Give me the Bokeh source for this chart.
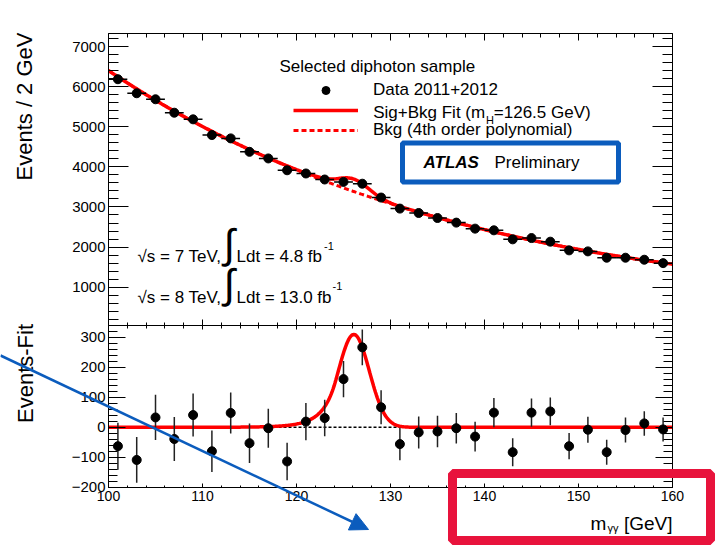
import numpy as np
from bokeh.plotting import figure
from bokeh.layouts import column
from bokeh.models import (Range1d, LinearAxis, SingleIntervalTicker, Label, Legend,
                          LegendItem, BoxAnnotation, Arrow, NormalHead, ColumnDataSource,
                          CustomJSTickFormatter)
from bokeh.embed import file_html
from bokeh.resources import INLINE

# diphoton invariant mass, 2 GeV bins (bin centres)
mass = [101, 103, 105, 107, 109, 111, 113, 115, 117, 119,
        121, 123, 125, 127, 129, 131, 133, 135, 137, 139,
        141, 143, 145, 147, 149, 151, 153, 155, 157, 159]
# selected events per bin, Data 2011+2012
events = [6185, 5835, 5685, 5350, 5185, 4793, 4710, 4375, 4210, 3915,
          3835, 3685, 3625, 3580, 3235, 2960, 2850, 2725, 2610, 2460,
          2418, 2193, 2225, 2135, 1918, 1893, 1735, 1735, 1685, 1600]
# events minus background fit
residual = [-63, -109, 33, -39, 41, -80, 48, -53, -3, -114,
            19, 31, 161, 267, 67, -56, -17, -14, -3, -31,
            49, -83, 49, 53, -63, -8, -83, -9, 13, -7]

# signal model (Crystal Ball) parameters
m_H = 126.5
peak_offset = -0.4
signal_peak = 310.0
signal_width = 1.65
cb_alpha = 1.2
cb_n = 10.0

mass_a = np.array(mass, float)
events_a = np.array(events, float)
resid_a = np.array(residual, float)
stat_err = np.sqrt(events_a)


def scaled(m):
    return (m - 130.0) / 30.0


# 4th order polynomial background through the background-only estimate
bkg_coef = np.polyfit(scaled(mass_a), events_a - resid_a, 4)


def background(m):
    return np.polyval(bkg_coef, scaled(m))


def signal(m):
    t = (m - (m_H + peak_offset)) / signal_width
    a = cb_alpha
    amp = (cb_n / a) ** cb_n * np.exp(-a * a / 2)
    b = cb_n / a - a
    shape = np.exp(-t * t / 2)
    low = t <= -a
    shape[low] = amp * (b - t[low]) ** (-cb_n)
    shape[shape < 1e-9] = 0.0
    return signal_peak * shape


m_fine = np.linspace(100, 160, 601)

data_src = ColumnDataSource(dict(
    m=mass_a, n=events_a, lo=events_a - stat_err, hi=events_a + stat_err,
    ml=mass_a - 1, mr=mass_a + 1,
    r=resid_a, rlo=resid_a - stat_err, rhi=resid_a + stat_err))
curve_src = ColumnDataSource(dict(
    m=m_fine, bkg=background(m_fine), full=background(m_fine) + signal(m_fine),
    sig=signal(m_fine), zero=np.zeros_like(m_fine)))

FONT = "Liberation Sans"
RED = "#ff0000"
BLUE = "#0b5cbd"
MARK_RED = "#e8133c"
no_labels = CustomJSTickFormatter(code="return ''")


def style_axis(ax, ticker, tick_in, minor_in, label_px):
    ax.ticker = ticker
    ax.major_tick_in = tick_in
    ax.major_tick_out = 0
    ax.minor_tick_in = minor_in
    ax.minor_tick_out = 0
    ax.axis_line_color = "black"
    ax.axis_line_width = 1
    ax.major_tick_line_color = "black"
    ax.minor_tick_line_color = "black"
    ax.major_tick_line_width = 1
    ax.minor_tick_line_width = 1
    if label_px:
        ax.major_label_text_font = FONT
        ax.major_label_text_font_size = f"{label_px}px"
        ax.major_label_text_color = "black"
        ax.major_label_standoff = 3
    else:
        ax.formatter = no_labels
        ax.major_label_text_font_size = "1px"
        ax.major_label_standoff = 0


def text(p, x, y, s, size, align="left", baseline="alphabetic", angle=0.0,
         style="normal", units="canvas"):
    p.add_layout(Label(x=x, y=y, x_units=units, y_units=units, text=s,
                       text_font=FONT, text_font_size=f"{size}px", text_color="black",
                       text_align=align, text_baseline=baseline, angle=angle,
                       text_font_style=style))


# ---------------- upper panel: events / 2 GeV ----------------
top = figure(width=715, height=325, x_range=Range1d(99.999, 160.001),
             y_range=Range1d(45, 7325), output_backend="svg", toolbar_location=None,
             min_border_left=108, min_border_right=43, min_border_top=33,
             min_border_bottom=0, outline_line_color=None)
top.grid.visible = False

xt = SingleIntervalTicker(interval=10, num_minor_ticks=5)
yt_top = SingleIntervalTicker(interval=1000, num_minor_ticks=5)
style_axis(top.xaxis[0], xt, 6, 3, 0)
style_axis(top.yaxis[0], yt_top, 20, 10, 15)
ax_above = LinearAxis()
top.add_layout(ax_above, "above")
style_axis(ax_above, xt, 7, 4, 0)
ax_right = LinearAxis()
top.add_layout(ax_right, "right")
style_axis(ax_right, yt_top, 20, 10, 0)

bkg_r = top.line("m", "bkg", source=curve_src, line_color=RED, line_width=3, line_dash="5 3")
fit_r = top.line("m", "full", source=curve_src, line_color=RED, line_width=3.5)
top.segment(x0="ml", y0="n", x1="mr", y1="n", source=data_src, line_color="black", line_width=1.5)
top.segment(x0="m", y0="lo", x1="m", y1="hi", source=data_src, line_color="black", line_width=1.5)
pts_r = top.scatter("m", "n", source=data_src, size=9, fill_color="black", line_color="black")

legend = Legend(items=[LegendItem(label="Data 2011+2012", renderers=[pts_r]),
                       LegendItem(label="", renderers=[fit_r]),
                       LegendItem(label="Bkg (4th order polynomial)", renderers=[bkg_r])],
                location=(185, 185), glyph_width=65, glyph_height=20, label_height=20,
                label_standoff=15, spacing=0, padding=0, margin=0,
                border_line_color=None, background_fill_alpha=0,
                label_text_font=FONT, label_text_font_size="17px", label_text_color="black")
top.add_layout(legend)

text(top, 279, 66, "Selected diphoton sample", 17)
text(top, 372.7, 111.7, "Sig+Bkg Fit (m", 17)
text(top, 485.5, 119.5, "H", 11)
text(top, 493.3, 111.7, "=126.5 GeV)", 17)
text(top, 423, 161.7, "ATLAS", 17, style="bold italic")
text(top, 494, 161.7, "Preliminary", 17)

text(top, 137, 256, "\u221as = 7 TeV,", 17)
text(top, 228.5, 243.5, "\u222b", 41, align="center", baseline="middle")
text(top, 236, 256, "Ldt = 4.8 fb", 17)
text(top, 323.5, 245, "-1", 11)
text(top, 137, 296.5, "\u221as = 8 TeV,", 17)
text(top, 228.5, 283.5, "\u222b", 41, align="center", baseline="middle")
text(top, 236, 296.5, "Ldt = 13.0 fb", 17)
text(top, 332, 285.5, "-1", 11)

# ---------------- lower panel: events - fit ----------------
bot = figure(width=715, height=223, x_range=top.x_range, y_range=Range1d(-201, 340),
             output_backend="svg", toolbar_location=None,
             min_border_left=108, min_border_right=43, min_border_top=0,
             min_border_bottom=61, outline_line_color=None)
bot.grid.visible = False

xt_b = SingleIntervalTicker(interval=10, num_minor_ticks=5)
yt_b = SingleIntervalTicker(interval=100, num_minor_ticks=5)
style_axis(bot.xaxis[0], xt_b, 4, 2, 14)
style_axis(bot.yaxis[0], yt_b, 17, 9, 15)
bax_above = LinearAxis()
bot.add_layout(bax_above, "above")
style_axis(bax_above, xt_b, 4, 3, 0)
bax_right = LinearAxis()
bot.add_layout(bax_right, "right")
style_axis(bax_right, yt_b, 17, 9, 0)

bot.line("m", "zero", source=curve_src, line_color="black", line_width=1.5, line_dash="3 2")
bot.line("m", "sig", source=curve_src, line_color=RED, line_width=3.5)
bot.segment(x0="m", y0="rlo", x1="m", y1="rhi", source=data_src, line_color="#222222", line_width=1.5)
bot.scatter("m", "r", source=data_src, size=9, fill_color="black", line_color="black")

# ---------------- page overlay: axis titles and highlight marks ----------------
ov = figure(width=715, height=548, x_range=Range1d(0, 715), y_range=Range1d(548, 0),
            output_backend="svg", toolbar_location=None, min_border=0,
            x_axis_location=None, y_axis_location=None, outline_line_color=None,
            background_fill_alpha=0, border_fill_alpha=0,
            styles={"position": "absolute", "top": "0px", "left": "0px"})
ov.grid.visible = False

text(ov, 24, 106, "Events / 2 GeV", 22, align="center", baseline="middle",
     angle=np.pi / 2, units="data")
text(ov, 25, 373, "Events-Fit", 22, align="center", baseline="middle",
     angle=np.pi / 2, units="data")
text(ov, 590, 523, "m", 19, units="data")
text(ov, 607, 527, "\u03b3\u03b3", 11, units="data")
text(ov, 672, 523, "[GeV]", 19, align="right", units="data")

ov.add_layout(BoxAnnotation(left=402, right=618, top=142.5, bottom=181.5,
                            fill_alpha=0, line_color=BLUE, line_alpha=1, line_width=5))
ov.add_layout(BoxAnnotation(left=452, right=710, top=473, bottom=540,
                            fill_alpha=0, line_color=MARK_RED, line_alpha=1, line_width=9))
ov.add_layout(Arrow(end=NormalHead(size=18, fill_color=BLUE, line_color=BLUE, line_width=1),
                    x_start=0, y_start=355, x_end=368, y_end=529,
                    line_color=BLUE, line_width=2.5))

try:
    ov.frame_align = False
    roots = column(top, bot, ov, spacing=0, styles={"position": "relative"})
except AttributeError:
    roots = [column(top, bot, spacing=0), ov]

open("out.html", "w").write(file_html(roots, INLINE, title="diphoton mass"))
